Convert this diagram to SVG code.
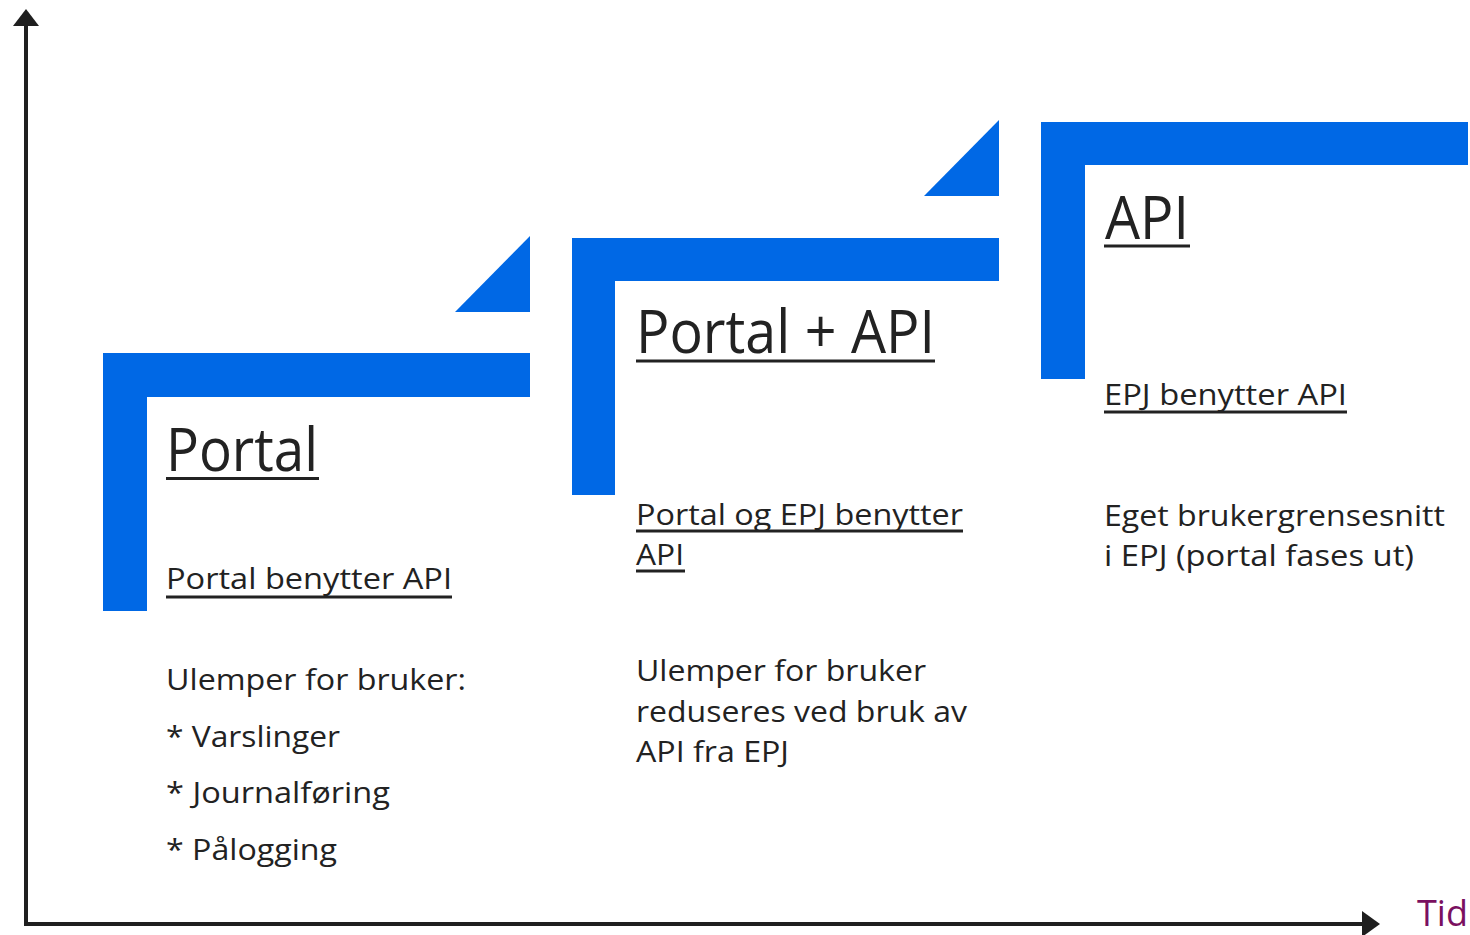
<svg xmlns="http://www.w3.org/2000/svg" width="1470" height="935" viewBox="0 0 1470 935">
  <style>
    .step { fill: #0068E5; }
    .axis { stroke: #1f1f1f; stroke-width: 4; fill: none; }
    .head { fill: #1f1f1f; }
    text { font-family: "Open Sans", "Noto Sans", sans-serif; fill: #222222; }
    .big { font-size: 60px; }
    .small { font-size: 30px; }
    .ul { stroke: #222222; stroke-width: 3; }
    .tid { font-size: 37px; fill: #7A1060; }
  </style>
  <rect width="1470" height="935" fill="#ffffff"/>

  <!-- axes -->
  <g id="connectors">
    <line class="axis" x1="26" y1="24" x2="26" y2="926"/>
    <polygon class="head" points="26,9 39,26 13,26"/>
    <line class="axis" x1="24" y1="924" x2="1364" y2="924"/>
    <polygon class="head" points="1380,924 1362,911 1362,937"/>
  </g>

  <!-- stage 1: Portal -->
  <g id="stage-portal">
    <path class="step" d="M103,353 H530 V397 H147 V611 H103 Z"/>
    <polygon class="step" points="455,312 530,312 530,236"/>
    <text class="big" x="166" y="471" textLength="152" lengthAdjust="spacingAndGlyphs">Portal</text>
    <line class="ul" x1="166" y1="478.5" x2="319" y2="478.5"/>
    <text class="small" x="166" y="589" textLength="286" lengthAdjust="spacingAndGlyphs">Portal benytter API</text>
    <line class="ul" x1="166" y1="597" x2="452" y2="597"/>
    <text class="small" x="166" y="690" textLength="300" lengthAdjust="spacingAndGlyphs">Ulemper for bruker:</text>
    <text class="small" x="166" y="747" textLength="174" lengthAdjust="spacingAndGlyphs">* Varslinger</text>
    <text class="small" x="166" y="803" textLength="224" lengthAdjust="spacingAndGlyphs">* Journalføring</text>
    <text class="small" x="166" y="860" textLength="171" lengthAdjust="spacingAndGlyphs">* Pålogging</text>
  </g>

  <!-- stage 2: Portal + API -->
  <g id="stage-portal-api">
    <path class="step" d="M572,238 H999 V281 H615 V495 H572 Z"/>
    <polygon class="step" points="924,196 999,196 999,120"/>
    <text class="big" x="636" y="353" textLength="299" lengthAdjust="spacingAndGlyphs">Portal + API</text>
    <line class="ul" x1="636" y1="361" x2="935" y2="361"/>
    <text class="small" x="636" y="525" textLength="327" lengthAdjust="spacingAndGlyphs">Portal og EPJ benytter</text>
    <line class="ul" x1="636" y1="531" x2="963" y2="531"/>
    <text class="small" x="636" y="565" textLength="48" lengthAdjust="spacingAndGlyphs">API</text>
    <line class="ul" x1="636" y1="571" x2="685" y2="571"/>
    <text class="small" x="636" y="681" textLength="290" lengthAdjust="spacingAndGlyphs">Ulemper for bruker</text>
    <text class="small" x="636" y="722" textLength="331" lengthAdjust="spacingAndGlyphs">reduseres ved bruk av</text>
    <text class="small" x="636" y="762" textLength="153" lengthAdjust="spacingAndGlyphs">API fra EPJ</text>
  </g>

  <!-- stage 3: API -->
  <g id="stage-api">
    <path class="step" d="M1041,122 H1468 V165 H1085 V379 H1041 Z"/>
    <text class="big" x="1105" y="239" textLength="84" lengthAdjust="spacingAndGlyphs">API</text>
    <line class="ul" x1="1104" y1="246" x2="1190" y2="246"/>
    <text class="small" x="1104" y="405" textLength="243" lengthAdjust="spacingAndGlyphs">EPJ benytter API</text>
    <line class="ul" x1="1104" y1="412" x2="1347" y2="412"/>
    <text class="small" x="1104" y="526" textLength="341" lengthAdjust="spacingAndGlyphs">Eget brukergrensesnitt</text>
    <text class="small" x="1104" y="566" textLength="310" lengthAdjust="spacingAndGlyphs">i EPJ (portal fases ut)</text>
  </g>

  <!-- axis label -->
  <g id="label-tid">
    <text class="tid" x="1417" y="926" textLength="51" lengthAdjust="spacingAndGlyphs">Tid</text>
  </g>
</svg>
